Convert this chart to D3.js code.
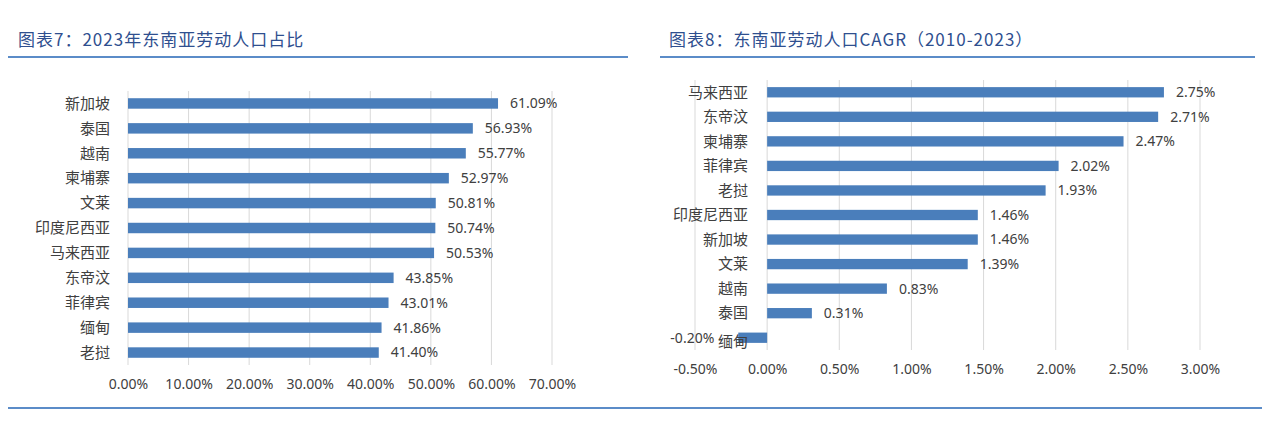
<!DOCTYPE html><html><head><meta charset="utf-8"><script src="https://cdn.jsdelivr.net/npm/d3@7"></script>
<style>body{margin:0;background:#fff}text{font-family:"Noto Sans CJK SC","Noto Sans",sans-serif}</style></head><body>
<svg id="c" width="1277" height="421"></svg>
<script>
const leftCats=["新加坡","泰国","越南","柬埔寨","文莱","印度尼西亚","马来西亚","东帝汶","菲律宾","缅甸","老挝"];
const leftVals=[61.09,56.93,55.77,52.97,50.81,50.74,50.53,43.85,43.01,41.86,41.40];
const leftTicks=[0,10,20,30,40,50,60,70];
const rightCats=["马来西亚","东帝汶","柬埔寨","菲律宾","老挝","印度尼西亚","新加坡","文莱","越南","泰国","缅甸"];
const rightVals=[2.75,2.71,2.47,2.02,1.93,1.46,1.46,1.39,0.83,0.31,-0.20];
const rightTicks=[-0.5,0,0.5,1,1.5,2,2.5,3];
const svg=d3.select("#c");
const blue="#4a7ebb", tc="#404040", hc="#2f4f8f";
[[18,"图表7：2023年东南亚劳动人口占比",8,628],[669,"图表8：东南亚劳动人口CAGR（2010-2023）",660,1255]].forEach(([x,t,x1,x2])=>{
 svg.append("text").attr("x",x).attr("y",46).attr("font-size",17).attr("fill",hc).attr("letter-spacing",1).text(t);
 svg.append("line").attr("x1",x1).attr("x2",x2).attr("y1",57).attr("y2",57).attr("stroke","#5b8cc8").attr("stroke-width",2);
});
svg.append("line").attr("x1",8).attr("x2",1262).attr("y1",408).attr("y2",408).attr("stroke","#5b8cc8").attr("stroke-width",2);
function chart(cats,vals,ticks,x0,x1,dom,y0,y1,labX){
 const x=d3.scaleLinear().domain(dom).range([x0,x1]);
 const y=d3.scaleBand().domain(cats).range([y0,y1]).paddingInner(0.58).paddingOuter(0.29);
 const g=svg.append("g");
 g.selectAll(".gl").data(ticks).join("line").attr("x1",d=>x(d)).attr("x2",d=>x(d)).attr("y1",y0).attr("y2",y1).attr("stroke","#d9d9d9");
 const ax=g.append("g").attr("transform",`translate(0,${y1})`).call(d3.axisBottom(x).tickValues(ticks).tickSize(0).tickPadding(14).tickFormat(d=>d.toFixed(2)+"%"));
 ax.select(".domain").remove();ax.selectAll("text").attr("font-size",14).attr("fill",tc).style("font-family","Noto Sans, sans-serif");
 g.selectAll("rect").data(vals).join("rect").attr("x",d=>x(Math.min(0,d))).attr("width",d=>Math.abs(x(d)-x(0))).attr("y",(d,i)=>y(cats[i])).attr("height",y.bandwidth()).attr("fill",blue);
 g.selectAll(".cl").data(cats).join("text").attr("x",labX).attr("y",(d,i)=>y(d)+y.bandwidth()/2+(vals[i]<0?4:0)).attr("dy","0.35em").attr("text-anchor","end").attr("font-size",15).attr("fill",tc).text(d=>d);
 g.selectAll(".vl").data(vals).join("text").attr("x",d=>d<0?x(d)-24:x(d)+12).attr("text-anchor",d=>d<0?"end":"start").attr("y",(d,i)=>y(cats[i])+y.bandwidth()/2).attr("dy","0.35em").attr("font-size",14).attr("fill",tc).style("font-family","Noto Sans, sans-serif").text(d=>d.toFixed(2)+"%");
}
chart(leftCats,leftVals,leftTicks,128,552,[0,70],91,365,110);
chart(rightCats,rightVals,rightTicks,695,1200,[-0.5,3],80,350,748);
</script></body></html>
